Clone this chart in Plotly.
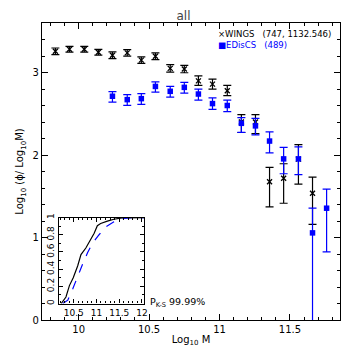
import plotly.graph_objects as go

# WINGS (black crosses)
wings_mass = [9.835, 9.935, 10.04, 10.14, 10.24, 10.345, 10.445, 10.545, 10.65, 10.75,
              10.85, 10.95, 11.055, 11.155, 11.255, 11.355, 11.455, 11.56, 11.66]
wings_phi = [3.257, 3.281, 3.281, 3.245, 3.209, 3.238, 3.15, 3.197, 3.05, 3.042,
             2.898, 2.859, 2.779, 2.40, 2.40, 1.675, 1.719, 1.95, 1.537]
wings_err_up = [0.04, 0.035, 0.035, 0.035, 0.04, 0.04, 0.04, 0.04, 0.045, 0.045,
                0.06, 0.06, 0.064, 0.09, 0.09, 0.175, 0.175, 0.175, 0.195]
wings_err_dn = [0.04, 0.035, 0.035, 0.035, 0.04, 0.04, 0.04, 0.04, 0.045, 0.045,
                0.055, 0.06, 0.06, 0.127, 0.14, 0.303, 0.304, 0.303, 0.377]

# EDisCS (blue squares)
ediscs_mass = [10.24, 10.345, 10.445, 10.545, 10.65, 10.75, 10.85, 10.95, 11.055,
               11.155, 11.255, 11.355, 11.455, 11.56, 11.66, 11.76]
ediscs_phi = [2.712, 2.671, 2.683, 2.831, 2.772, 2.82, 2.739, 2.623, 2.60,
              2.384, 2.353, 2.169, 1.953, 1.953, 1.056, 1.355]
ediscs_err_up = [0.055, 0.06, 0.06, 0.055, 0.06, 0.06, 0.06, 0.07, 0.065,
                 0.07, 0.09, 0.112, 0.14, 0.145, 0.30, 0.232]
ediscs_err_dn = [0.072, 0.07, 0.07, 0.07, 0.07, 0.07, 0.075, 0.07, 0.075,
                 0.11, 0.11, 0.144, 0.18, 0.19, 2.0, 0.53]

# cumulative distributions for the inset
cum_wings_x = [10.224, 10.33, 10.406, 10.49, 10.587, 10.66, 10.767, 10.876, 10.95,
               11.02, 11.093, 11.24, 11.384, 11.565, 12.05]
cum_wings_y = [0.0, 0.076, 0.209, 0.30, 0.437, 0.57, 0.646, 0.741, 0.817,
               0.905, 0.93, 0.958, 0.98, 0.996, 1.0]
cum_ediscs_x = [10.26, 10.37, 10.478, 10.587, 10.695, 10.804, 10.913, 11.058, 11.2,
                11.384, 11.6, 11.78, 12.05]
cum_ediscs_y = [0.0, 0.04, 0.17, 0.32, 0.456, 0.59, 0.70, 0.80, 0.89,
                0.95, 0.99, 1.0, 1.0]

BLUE = "rgb(0,0,255)"
FONT = "DejaVu Sans"

fig = go.Figure()

fig.add_trace(go.Scatter(
    x=wings_mass, y=wings_phi, mode="markers",
    marker=dict(symbol="x-thin", size=5, line=dict(color="black", width=1.3)),
    error_y=dict(type="data", array=wings_err_up, arrayminus=wings_err_dn,
                 color="black", thickness=1.2, width=4),
    showlegend=False,
))
fig.add_trace(go.Scatter(
    x=ediscs_mass, y=ediscs_phi, mode="markers",
    marker=dict(symbol="square", size=5.5, color=BLUE),
    error_y=dict(type="data", array=ediscs_err_up, arrayminus=ediscs_err_dn,
                 color=BLUE, thickness=1.2, width=4),
    showlegend=False,
))

fig.add_trace(go.Scatter(
    x=cum_wings_x, y=cum_wings_y, mode="lines", xaxis="x2", yaxis="y2",
    line=dict(color="black", width=1.2), showlegend=False,
))
fig.add_trace(go.Scatter(
    x=cum_ediscs_x, y=cum_ediscs_y, mode="lines", xaxis="x2", yaxis="y2",
    line=dict(color=BLUE, width=1.2, dash="dash"), showlegend=False,
))

axis_style = dict(
    showline=True, linecolor="black", linewidth=1.3, mirror="allticks",
    ticks="inside", tickcolor="black", showgrid=False, zeroline=False,
    tickfont=dict(family=FONT, size=10, color="black"),
)
inset_font = dict(family=FONT, size=9, color="black")

# the page puts the figure 8px in from the top-left corner
fig.update_layout(
    width=351, height=351,
    margin=dict(l=31, r=19, t=11, b=39),
    paper_bgcolor="white", plot_bgcolor="white",
    font=dict(family=FONT, color="black"),
    title=dict(text="all", x=0.5, xanchor="center", y=0.99, yanchor="top",
               pad=dict(t=0),
               font=dict(family=FONT, size=12, color="#444")),
    xaxis=dict(range=[9.74, 11.855], tickvals=[10, 10.5, 11, 11.5], ticklen=6,
               minor=dict(dtick=0.1, tick0=9.7, ticks="inside", ticklen=3, tickcolor="black"),
               title=dict(text="Log<sub>10</sub> M", font=dict(family=FONT, size=10), standoff=1),
               **axis_style),
    yaxis=dict(range=[0, 3.6], tickvals=[0, 1, 2, 3], ticklen=6,
               minor=dict(dtick=0.2, tick0=0, ticks="inside", ticklen=3, tickcolor="black"),
               title=dict(text="Log<sub>10</sub> (ϕ/ Log<sub>10</sub>M)",
                          font=dict(family=FONT, size=10), standoff=6),
               **axis_style),
    xaxis2=dict(domain=[0.0555, 0.343], anchor="y2", range=[10.167, 12.05],
                tickvals=[10.5, 11, 11.5, 12], ticklen=4,
                minor=dict(dtick=0.1, tick0=10.1, ticks="inside", ticklen=2, tickcolor="black"),
                **{**axis_style, "tickfont": inset_font}),
    yaxis2=dict(domain=[0.0553, 0.345], anchor="x2", range=[0, 1],
                tickvals=[0, 0.2, 0.4, 0.6, 0.8, 1], ticktext=["0", "0.2", "0.4", "0.6", "0.8", "1"],
                tickangle=-90, ticklen=4,
                minor=dict(dtick=0.1, tick0=0, ticks="inside", ticklen=2, tickcolor="black"),
                **{**axis_style, "tickfont": inset_font}),
)

legend_text = (
    "×WINGS   (747, 1132.546)<br>"
    f"<span style='color:{BLUE}'>■EDisCS   (489)</span>"
)
fig.add_annotation(
    xref="paper", yref="paper", x=0.585, y=0.985, xanchor="left", yanchor="top",
    text=legend_text, showarrow=False, align="left",
    font=dict(family=FONT, size=8.5, color="black"),
)
fig.add_annotation(
    xref="paper", yref="paper", x=0.355, y=0.058, xanchor="left", yanchor="middle",
    text="P<sub>K-S</sub> 99.99%", showarrow=False,
    font=dict(family=FONT, size=9.5, color="black"),
)

fig.write_html("out.html")
